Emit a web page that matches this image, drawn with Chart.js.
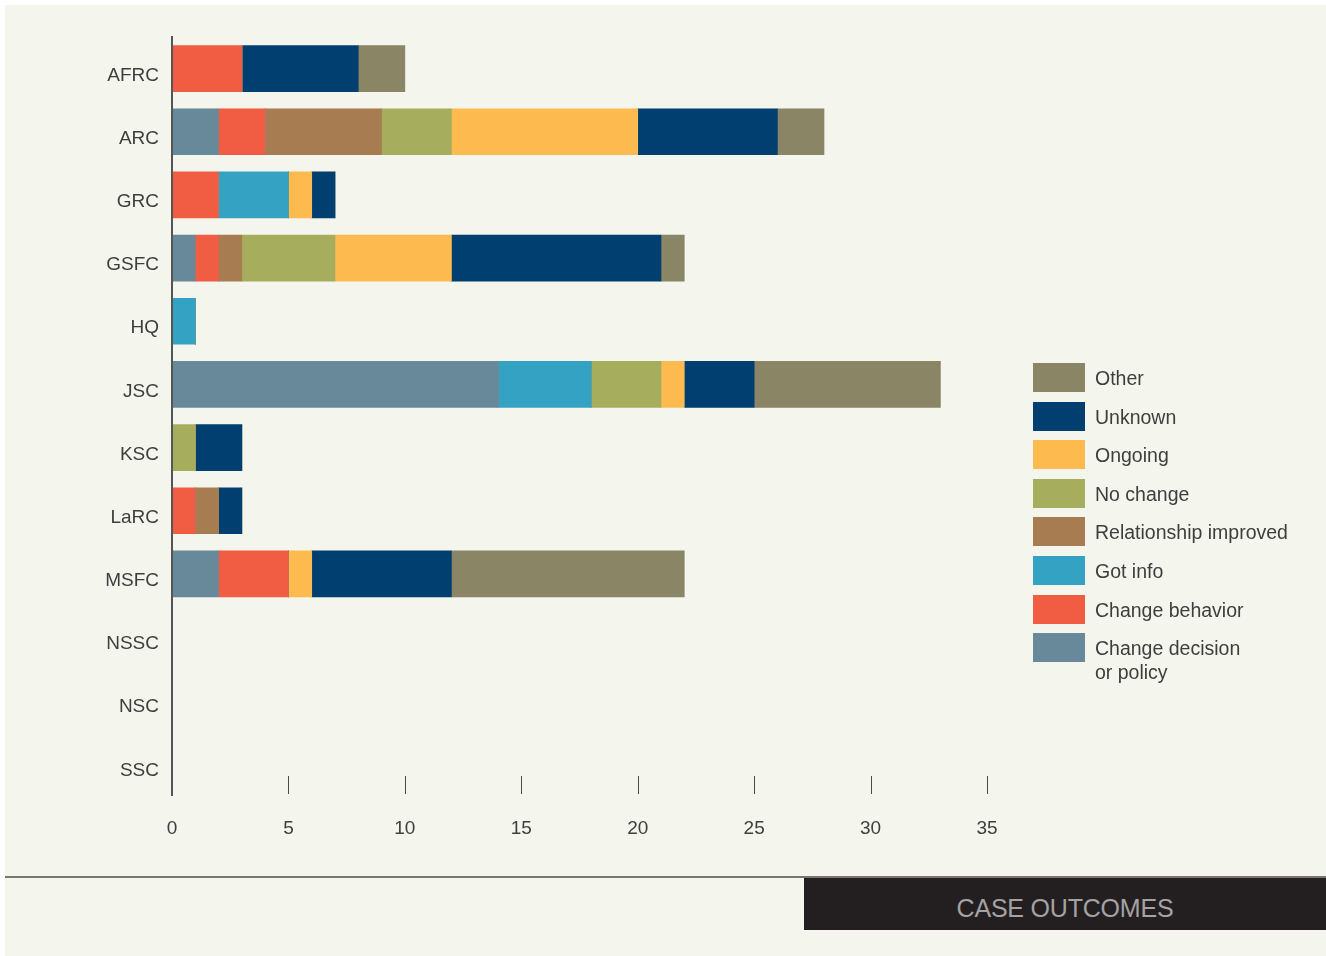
<!DOCTYPE html>
<html>
<head>
<meta charset="utf-8">
<script src="https://cdn.jsdelivr.net/npm/chart.js@4"></script>
<style>
  html, body { margin: 0; padding: 0; background: #ffffff; }
  body { width: 1326px; height: 956px; position: relative; overflow: hidden; font-family: "Liberation Sans", Arial, sans-serif; }
  .panel { position: absolute; left: 5px; top: 5px; width: 1321px; height: 951px; background: #f4f5ec; }
  #chart { position: absolute; left: 0; top: 0; }
  .legend { position: absolute; left: 1033px; top: 363px; }
  .legend-item { display: flex; align-items: flex-start; height: 38.6px; }
  .swatch { width: 52px; height: 29px; flex: none; }
  .legend-text { margin-left: 10px; font-size: 19.5px; color: #3e3e3e; line-height: 24px; padding-top: 3px; }
  .rule { position: absolute; left: 5px; top: 876px; width: 1321px; height: 2px; background: #77776f; }
  .title-box { position: absolute; left: 804px; top: 878px; width: 522px; height: 52px; background: #231f20;
    color: #a3a3a3; font-size: 25px; text-align: center; line-height: 60px; letter-spacing: -0.2px; overflow: hidden; }
</style>
</head>
<body>
<div class="panel"></div>
<canvas id="chart" width="1326" height="956"></canvas>
<div class="legend" id="legend"></div>
<div class="rule"></div>
<div class="title-box">CASE OUTCOMES</div>
<script>
  const centers = ["AFRC", "ARC", "GRC", "GSFC", "HQ", "JSC", "KSC", "LaRC", "MSFC", "NSSC", "NSC", "SSC"];
  const xTicks = [0, 5, 10, 15, 20, 25, 30, 35];

  const changeDecision = [0, 2, 0, 1, 0, 14, 0, 0, 2, 0, 0, 0];
  const changeBehavior = [3, 2, 2, 1, 0, 0, 0, 1, 3, 0, 0, 0];
  const gotInfo        = [0, 0, 3, 0, 1, 4, 0, 0, 0, 0, 0, 0];
  const relationship   = [0, 5, 0, 1, 0, 0, 0, 1, 0, 0, 0, 0];
  const noChange       = [0, 3, 0, 4, 0, 3, 1, 0, 0, 0, 0, 0];
  const ongoing        = [0, 8, 1, 5, 0, 1, 0, 0, 1, 0, 0, 0];
  const unknown        = [5, 6, 1, 9, 0, 3, 2, 1, 6, 0, 0, 0];
  const other          = [2, 2, 0, 1, 0, 8, 0, 0, 10, 0, 0, 0];

  const series = [
    { label: ["Change decision", "or policy"], data: changeDecision, color: "#688999" },
    { label: "Change behavior", data: changeBehavior, color: "#f15d42" },
    { label: "Got info", data: gotInfo, color: "#34a3c3" },
    { label: "Relationship improved", data: relationship, color: "#a77c51" },
    { label: "No change", data: noChange, color: "#a6ae5e" },
    { label: "Ongoing", data: ongoing, color: "#fdbb4f" },
    { label: "Unknown", data: unknown, color: "#003f6f" },
    { label: "Other", data: other, color: "#8a8565" }
  ];

  // legend, top item is the last stacked series
  const legend = document.getElementById("legend");
  legend.innerHTML = [...series].reverse().map(s => {
    const text = Array.isArray(s.label) ? s.label.join("<br>") : s.label;
    return `<div class="legend-item"><div class="swatch" style="background:${s.color}"></div><div class="legend-text">${text}</div></div>`;
  }).join("");

  // short tick marks along the bottom, inside the plot area
  const tickMarks = {
    id: "tickMarks",
    afterDraw(chart) {
      const ctx = chart.ctx;
      const x = chart.scales.x;
      const bottom = chart.chartArea.bottom - 1;
      ctx.save();
      ctx.strokeStyle = "#4a4a4a";
      ctx.lineWidth = 1;
      xTicks.forEach(v => {
        if (v === 0) return;
        const px = Math.round(x.getPixelForValue(v)) + 0.5;
        ctx.beginPath();
        ctx.moveTo(px, bottom - 18);
        ctx.lineTo(px, bottom);
        ctx.stroke();
      });
      ctx.restore();
    }
  };

  const font = { family: "'Liberation Sans', Arial, sans-serif", size: 19 };

  new Chart(document.getElementById("chart"), {
    type: "bar",
    data: {
      labels: centers,
      datasets: series.map(s => ({
        label: Array.isArray(s.label) ? s.label.join(" ") : s.label,
        data: s.data,
        backgroundColor: s.color,
        borderWidth: 0,
        barThickness: 46
      }))
    },
    options: {
      indexAxis: "y",
      responsive: false,
      animation: false,
      devicePixelRatio: 1,
      layout: { padding: { top: 37, right: 339, bottom: 0, left: 0 } },
      plugins: { legend: { display: false }, tooltip: { enabled: false } },
      scales: {
        x: {
          stacked: true,
          min: 0,
          max: 35,
          ticks: { stepSize: 5, color: "#3e3e3e", font, padding: 22 },
          grid: { display: false, drawTicks: false },
          border: { display: false },
          afterFit(scale) {
            scale.height = 161;
            scale.paddingLeft = 0;
            scale.paddingRight = 0;
          }
        },
        y: {
          stacked: true,
          ticks: { color: "#3e3e3e", font, padding: 13, labelOffset: 7 },
          grid: { display: false, drawTicks: false },
          border: { display: true, color: "#555555", width: 2, z: 1 },
          afterFit(scale) {
            scale.width = 172;
            scale.paddingTop = 0;
            scale.paddingBottom = 0;
          }
        }
      }
    },
    plugins: [tickMarks]
  });
</script>
</body>
</html>
